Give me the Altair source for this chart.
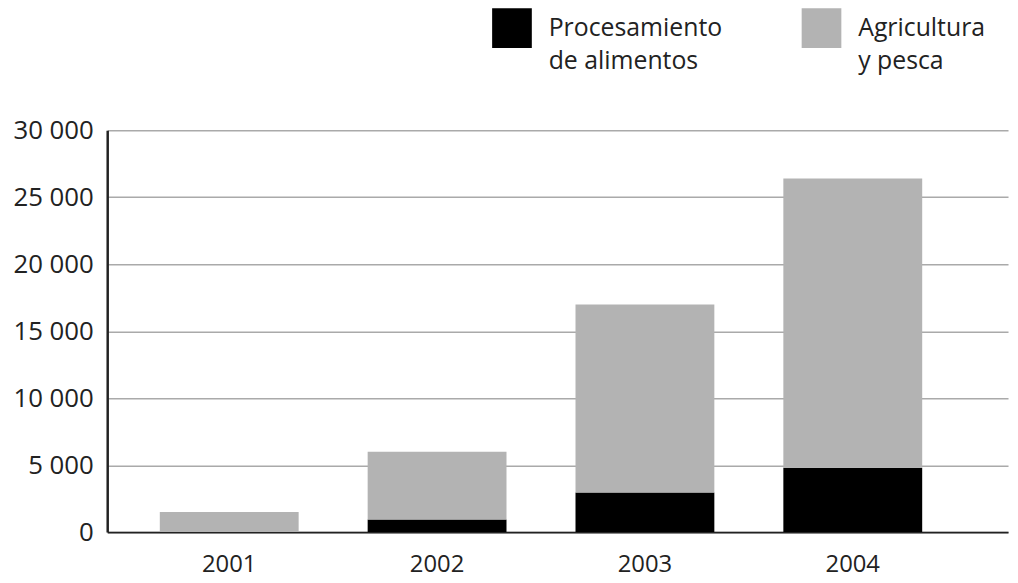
import altair as alt
import pandas as pd

years = ["2001", "2002", "2003", "2004"]
procesamiento = [0, 950, 2950, 4800]
agricultura = [1500, 5050, 14050, 21600]
series = ["Procesamiento de alimentos", "Agricultura y pesca"]
colors = ["#000000", "#b3b3b3"]

rows = []
for y, p, a in zip(years, procesamiento, agricultura):
    rows.append({"year": y, "serie": series[0], "value": p, "ord": 0})
    rows.append({"year": y, "serie": series[1], "value": a, "ord": 1})
df = pd.DataFrame(rows)

FONT = "Open Sans"

chart = alt.Chart(df).mark_bar().encode(
    x=alt.X("year:N", title=None, sort=years,
            scale=alt.Scale(paddingInner=0.332, paddingOuter=0.333, align=0.38),
            axis=alt.Axis(labelAngle=0, labelFontSize=24, labelFont=FONT, labelColor="#222",
                          labelPadding=21, ticks=False, grid=False,
                          domainColor="#222", domainWidth=2)),
    y=alt.Y("value:Q", title=None, stack="zero",
            scale=alt.Scale(domain=[0, 30000], nice=False),
            axis=alt.Axis(values=[0, 5000, 10000, 15000, 20000, 25000, 30000],
                          labelExpr="replace(format(datum.value, ','), ',', ' ')",
                          labelFontSize=26, labelFont=FONT, labelColor="#222",
                          labelPadding=14, ticks=False, grid=True,
                          domainColor="#222", domainWidth=2.5,
                          gridColor="#aaaaaa", gridWidth=1.5)),
    color=alt.Color("serie:N", sort=series,
                    scale=alt.Scale(domain=series, range=colors),
                    legend=alt.Legend(title=None, orient="none", direction="horizontal",
                                      legendX=388, legendY=-123,
                                      symbolType="square", symbolSize=1600,
                                      symbolStrokeWidth=0, symbolOpacity=1,
                                      labelFont=FONT, labelFontSize=25, labelColor="#222",
                                      labelOffset=17, columnPadding=80,
                                      labelLimit=400,
                                      labelExpr="datum.label == 'Procesamiento de alimentos' ? ['Procesamiento', 'de alimentos'] : ['Agricultura', 'y pesca']")),
    order=alt.Order("ord:Q"),
).properties(
    width=908, height=405,
    autosize=alt.AutoSizeParams(type="none"),
    padding={"left": 100, "top": 121, "right": 2, "bottom": 52},
).configure(
    style={"guide-label": {"lineHeight": 33}},
    view=alt.ViewConfig(stroke="transparent", strokeWidth=0),
)

chart.save("out.html", embed_options={"renderer": "svg", "actions": False})
